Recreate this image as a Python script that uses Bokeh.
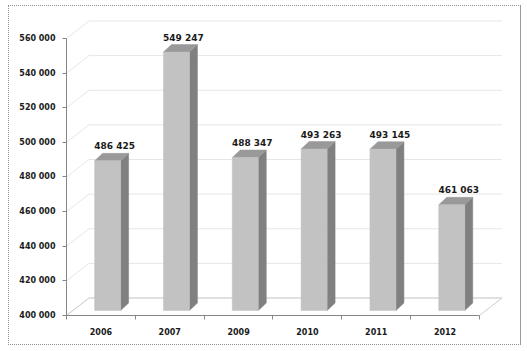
from bokeh.plotting import figure
from bokeh.models import Range1d, FixedTicker, ColumnDataSource, InlineStyleSheet
from bokeh.core.properties import value
from bokeh.embed import file_html
from bokeh.resources import INLINE

# ---------------- data ----------------
CATEGORIES = ["2006", "2007", "2009", "2010", "2011", "2012"]
VALUES = [486425, 549247, 488347, 493263, 493145, 461063]
VALUE_LABELS = ["486 425", "549 247", "488 347", "493 263", "493 145", "461 063"]
Y_TICKS = [400000, 420000, 440000, 460000, 480000, 500000, 520000, 540000, 560000]
Y_TICK_LABELS = ["400 000", "420 000", "440 000", "460 000", "480 000",
                 "500 000", "520 000", "540 000", "560 000"]

# ---------------- layout / style ----------------
W, H = 527, 351
FRAME_L, FRAME_R, FRAME_T, FRAME_B = 66, 503, 14, 315
PX_X = 68.83            # px per category
PX_Y = 577.6            # value units per px
Y0 = 400000
N = len(CATEGORIES)

def dxu(px):
    return px / PX_X

def dyu(px):
    return px * PX_Y

WALL_DX, WALL_DY = dxu(22.5), dyu(17.5)     # depth of the 3-D box
BAR_OX, BAR_OY = dxu(6.7), dyu(5.0)         # bar plane offset
BAR_DX, BAR_DY = dxu(8.0), dyu(7.5)         # bar depth
BAR_W = dxu(26)

FONT = "DejaVu Sans"
TXT = "#1a1a1a"

p = figure(width=W, height=H, output_backend="svg", toolbar_location=None,
           x_range=Range1d(0, (FRAME_R - FRAME_L) / PX_X),
           y_range=Range1d(Y0, Y0 + (FRAME_B - FRAME_T) * PX_Y),
           min_border_left=FRAME_L, min_border_right=W - FRAME_R,
           min_border_top=FRAME_T, min_border_bottom=H - FRAME_B)
p.outline_line_color = None
p.background_fill_color = "white"
p.border_fill_color = "white"
p.xgrid.visible = False
p.ygrid.visible = False
# dotted chart-area border drawn over the canvas
p.stylesheets = [InlineStyleSheet(css=(
    ":host::after { content: ''; position: absolute; left: 8px; top: 5px; "
    "width: 511px; height: 338px; border: 1px dotted #8f8f8f; "
    "border-right: 1px solid #9a9a9a; z-index: 50; pointer-events: none; }"))]

# ---------- walls ----------
side = ColumnDataSource(dict(x0=[0] * len(Y_TICKS), y0=Y_TICKS,
                             x1=[WALL_DX] * len(Y_TICKS),
                             y1=[t + WALL_DY for t in Y_TICKS]))
back = ColumnDataSource(dict(x0=[WALL_DX] * len(Y_TICKS),
                             y0=[t + WALL_DY for t in Y_TICKS],
                             x1=[N + WALL_DX] * len(Y_TICKS),
                             y1=[t + WALL_DY for t in Y_TICKS]))
p.segment("x0", "y0", "x1", "y1", source=side, line_color="#e6e6e6", line_width=1)
p.segment("x0", "y0", "x1", "y1", source=back, line_color="#e6e6e6", line_width=1)
# floor edges
p.segment(x0=[0, WALL_DX, N], y0=[Y0, Y0 + WALL_DY, Y0],
          x1=[WALL_DX, N + WALL_DX, N + WALL_DX], y1=[Y0 + WALL_DY] * 3,
          line_color="#cdcdcd", line_width=1)

# ---------- bars ----------
lefts = [i + 0.5 - BAR_W / 2 + BAR_OX for i in range(N)]
rights = [l + BAR_W for l in lefts]
bottoms = [Y0 + BAR_OY] * N
tops = [v + BAR_OY for v in VALUES]

side_xs = [[r, r + BAR_DX, r + BAR_DX, r] for r in rights]
side_ys = [[b, b + BAR_DY, t + BAR_DY, t] for b, t in zip(bottoms, tops)]
top_xs = [[l, r, r + BAR_DX, l + BAR_DX] for l, r in zip(lefts, rights)]
top_ys = [[t, t, t + BAR_DY, t + BAR_DY] for t in tops]

p.patches(side_xs, side_ys, fill_color="#808080", line_color="#808080", line_width=0.5)
p.patches(top_xs, top_ys, fill_color="#999999", line_color="#999999", line_width=0.5)
p.quad(left=lefts, right=rights, bottom=bottoms, top=tops,
       fill_color="#c2c2c2", line_color="#c2c2c2", line_width=0.5)

# value labels
lab = ColumnDataSource(dict(
    x=[l + BAR_W / 2 + dxu(7) for l in lefts],
    y=[t + BAR_DY + dyu(7) for t in tops],
    text=VALUE_LABELS))
p.text("x", "y", text="text", source=lab, text_align="center",
       text_baseline="alphabetic", text_font=value(FONT), text_font_style="bold",
       text_font_size="9px", text_color=TXT)

# ---------- axes ----------
ya = p.yaxis[0]
ya.ticker = FixedTicker(ticks=Y_TICKS, minor_ticks=[])
ya.bounds = (Y_TICKS[0], Y_TICKS[-1])
ya.major_label_overrides = {t: s for t, s in zip(Y_TICKS, Y_TICK_LABELS)}
ya.major_tick_out = 4
ya.major_tick_in = 0
ya.minor_tick_out = 0
ya.minor_tick_in = 0
ya.axis_line_color = "#868686"
ya.major_tick_line_color = "#868686"
ya.major_label_standoff = 7
ya.major_label_text_font = FONT
ya.major_label_text_font_style = "bold"
ya.major_label_text_font_size = "8px"
ya.major_label_text_color = TXT

xa = p.xaxis[0]
centers = [i + 0.5 for i in range(N)]
xa.ticker = FixedTicker(ticks=centers, minor_ticks=list(range(N + 1)))
xa.bounds = (0, N)
xa.major_label_overrides = {c: s for c, s in zip(centers, CATEGORIES)}
xa.major_tick_out = 0
xa.major_tick_in = 0
xa.minor_tick_out = 4
xa.minor_tick_in = 0
xa.axis_line_color = "#868686"
xa.minor_tick_line_color = "#868686"
xa.major_label_standoff = 8
xa.major_label_text_font = FONT
xa.major_label_text_font_style = "bold"
xa.major_label_text_font_size = "8px"
xa.major_label_text_color = TXT

open("out.html", "w").write(file_html(p, INLINE))
